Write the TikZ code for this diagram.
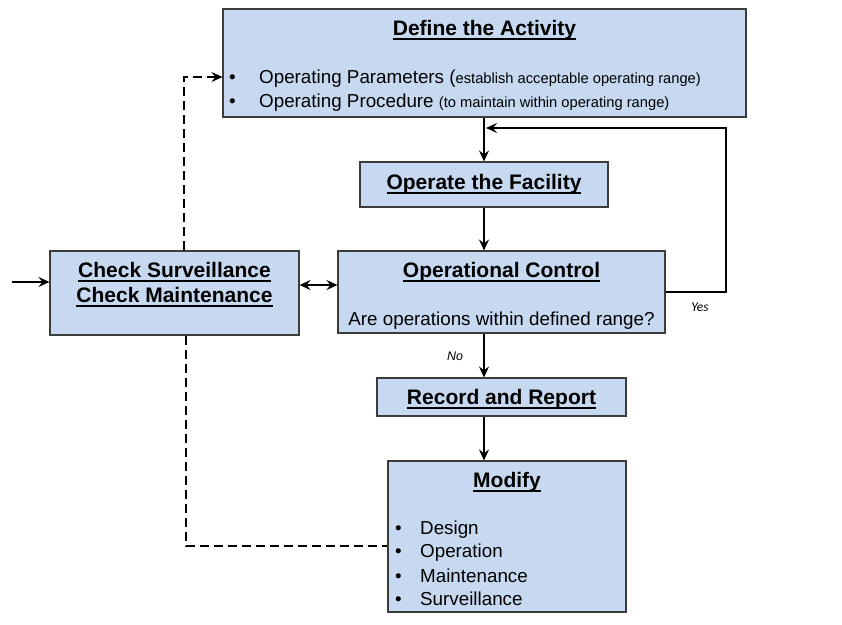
\documentclass[tikz,border=0pt]{standalone}
\usepackage{fontspec}
\setmainfont{Liberation Sans}
\newfontfamily\carlitofam{Carlito}
\usetikzlibrary{arrows.meta}
\definecolor{boxfill}{RGB}{198,217,240}
\definecolor{boxline}{RGB}{60,60,60}
\newcommand{\smalltxt}{\fontsize{14.7}{16}\selectfont}
\newcommand{\myul}[1]{\leavevmode\setbox0\hbox{#1}\rlap{\raisebox{-4.2pt}{\rule{\wd0}{1.7pt}}}\box0}
\begin{document}
\begin{tikzpicture}[x=1pt,y=-1pt,
 box/.style={draw=boxline, fill=boxfill, line width=1.1pt, inner sep=0pt},
 tip/.style={-{Stealth[length=11pt,width=10pt,inset=4pt]}},
 conn/.style={line width=2.5pt, tip},
 dconn/.style={line width=2.5pt, dash pattern=on 9pt off 5pt},
 ttl/.style={font=\fontsize{21}{24}\selectfont\bfseries, inner sep=0pt},
 txt/.style={font=\fontsize{18.8}{22}\selectfont, inner sep=0pt},
 blt/.style={txt, anchor=west},
 lbl/.style={font=\fontsize{12.5}{14}\selectfont\itshape, inner sep=0pt}]
\useasboundingbox (0,0) rectangle (842,624);

% boxes
\node[box, minimum width=523pt, minimum height=108pt] (def) at (484.5,63) {};
\node[box, minimum width=248pt, minimum height=45pt] (op) at (484,184.5) {};
\node[box, minimum width=249pt, minimum height=84pt] (chk) at (174.5,293) {};
\node[box, minimum width=327pt, minimum height=82pt] (ctl) at (501.5,292) {};
\node[box, minimum width=249pt, minimum height=38pt] (rec) at (501.5,397) {};
\node[box, minimum width=238pt, minimum height=151pt] (mod) at (507,536.5) {};

% texts
\node[ttl] (deft) at (484.5,30) {\myul{Define the Activity}};
\node[blt] (defb1) at (229,79) {\makebox[30pt][l]{•}Operating Parameters ({\smalltxt establish acceptable operating range)}};
\node[blt] (defb2) at (229,103) {\makebox[30pt][l]{•}Operating Procedure {\smalltxt (to maintain within operating range)}};
\node[ttl] (opt) at (484,184) {\myul{Operate the Facility}};
\node[ttl] (chk1) at (174.5,272) {\myul{Check Surveillance}};
\node[ttl] (chk2) at (174.5,297) {\myul{Check Maintenance}};
\node[ttl] (ctlt) at (501.5,272) {\myul{Operational Control}};
\node[txt] (ctlq) at (501.5,321) {Are operations within defined range?};
\node[ttl] (rect) at (501.5,399) {\myul{Record and Report}};
\node[ttl] (modt) at (507,482) {\myul{Modify}};
\node[blt] (modb1) at (395,530) {\makebox[25pt][l]{•}Design};
\node[blt] (modb2) at (395,553) {\makebox[25pt][l]{•}Operation};
\node[blt] (modb3) at (395,576) {\makebox[25pt][l]{•}Maintenance};
\node[blt] (modb4) at (395,599) {\makebox[25pt][l]{•}Surveillance};
\node[lbl] (no) at (455,356) {No};
\node[lbl, font=\fontsize{13.5}{15}\selectfont\carlitofam\itshape] (yes) at (700,307) {Yes};

% connectors
\draw[conn] (def.south -| op.north) -- (op.north);
\draw[conn] (op.south) -- (op.south |- ctl.north);
\draw[conn] (op.south |- ctl.south) -- (op.south |- rec.north);
\draw[conn] (op.south |- rec.south) -- (op.south |- mod.north);
\coordinate (loopin) at (486,128);
\draw[conn] (ctl.east) -- (726,292) -- (726,128) -- (loopin);
\coordinate (in) at (12,282);
\draw[conn] (in) -- (in -| chk.west);
\draw[line width=2.5pt, {Stealth[length=11pt,width=10pt,inset=4pt]}-{Stealth[length=11pt,width=10pt,inset=4pt]}]
  ([yshift=8pt]chk.east) -- ([yshift=8pt]chk.east -| ctl.west);
\draw[dconn, tip] ([xshift=9.5pt]chk.north) |- ([yshift=-14pt]def.west);
\draw[dconn] ([xshift=11.5pt]chk.south) |- ([yshift=-9.5pt]mod.west);
\end{tikzpicture}
\end{document}
